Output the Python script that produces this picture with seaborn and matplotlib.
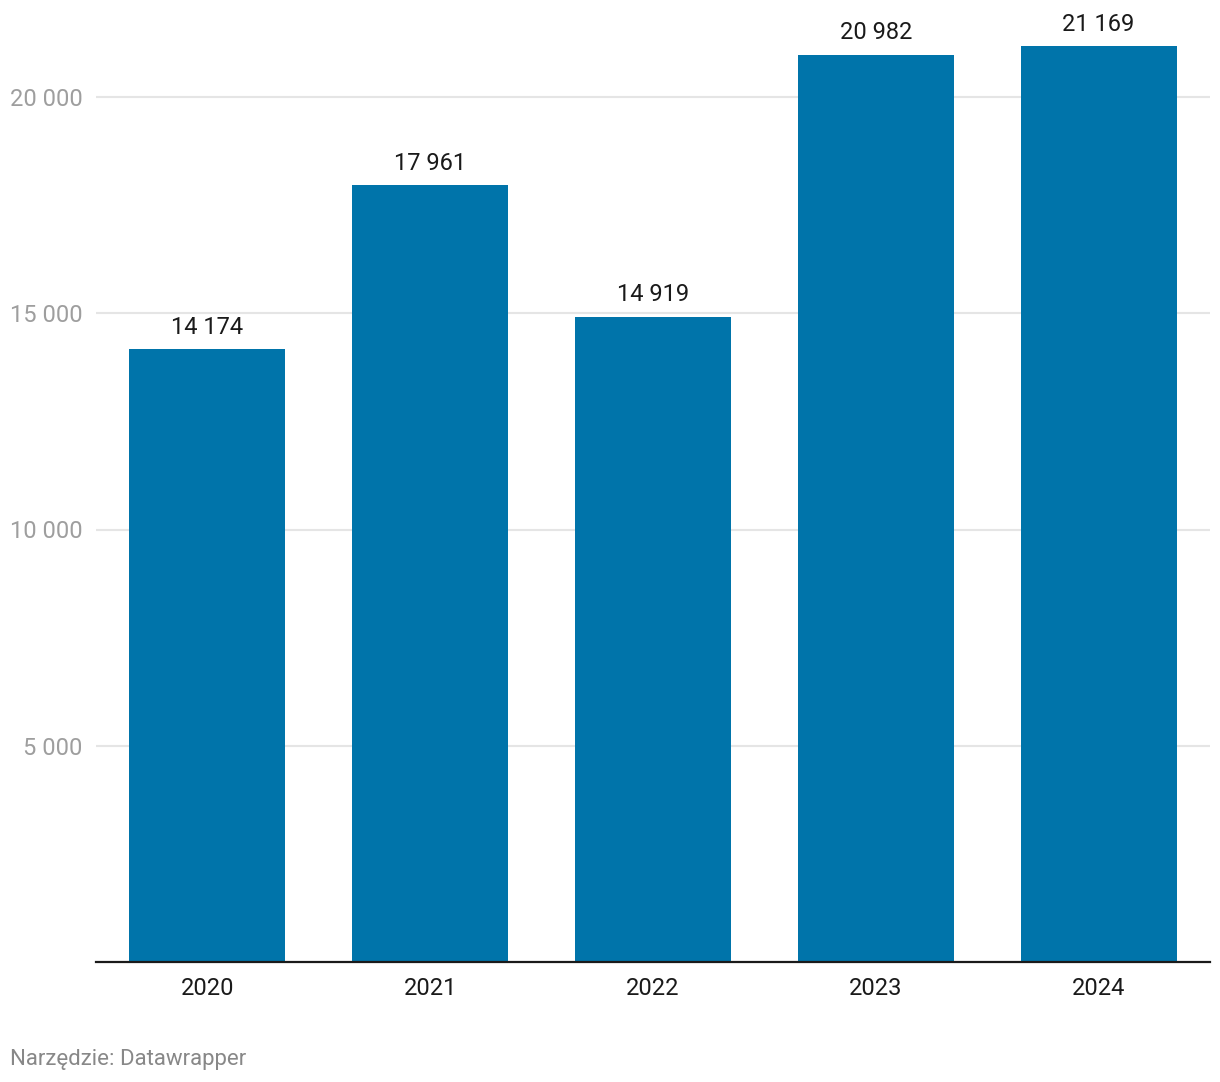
import matplotlib
matplotlib.use("Agg")
import matplotlib.pyplot as plt
import seaborn as sns
import pandas as pd

# data
years = ["2020", "2021", "2022", "2023", "2024"]
values = [14174, 17961, 14919, 20982, 21169]
yticks = [5000, 10000, 15000, 20000]

bar_color = "#0074aa"

sns.set_theme(style="white")
plt.rcParams["font.family"] = ["Roboto", "DejaVu Sans"]

df = pd.DataFrame({"year": years, "value": values})

def fmt(v):
    return f"{v:,}".replace(",", " ")

fig = plt.figure(figsize=(12.2, 10.82), dpi=100)
ax = fig.add_axes([96 / 1220, (1082 - 962) / 1082, (1210 - 96) / 1220, 962 / 1082])

sns.barplot(data=df, x="year", y="value", color=bar_color, width=0.7,
            saturation=1, linewidth=0, ax=ax, zorder=3)

ax.set_xlim(-0.5, 4.5)
ax.set_ylim(0, 962 / 865 * 20000)

# gridlines
for t in yticks:
    ax.axhline(t, color="#e5e5e5", lw=1.5, zorder=1)

ax.set_yticks(yticks)
ax.set_yticklabels([fmt(t) for t in yticks], color="#9e9e9e", fontsize=17)
ax.tick_params(axis="y", length=0, pad=9.5)
ax.tick_params(axis="x", length=0, pad=10.5, labelsize=17, labelcolor="#1a1a1a")

for s in ["top", "right", "left"]:
    ax.spines[s].set_visible(False)
ax.spines["bottom"].set_color("#1a1a1a")
ax.spines["bottom"].set_linewidth(1.6)
ax.spines["bottom"].set_zorder(5)

ax.set_xlabel("")
ax.set_ylabel("")

ax.bar_label(ax.containers[0], labels=[fmt(v) for v in values],
             padding=7.5, fontsize=17, color="#1a1a1a")

fig.text(10 / 1220, 1 - 1059 / 1082, "Narzędzie: Datawrapper",
         fontsize=16, color="#888888", va="center", ha="left")

fig.savefig("out.png", dpi=100)
